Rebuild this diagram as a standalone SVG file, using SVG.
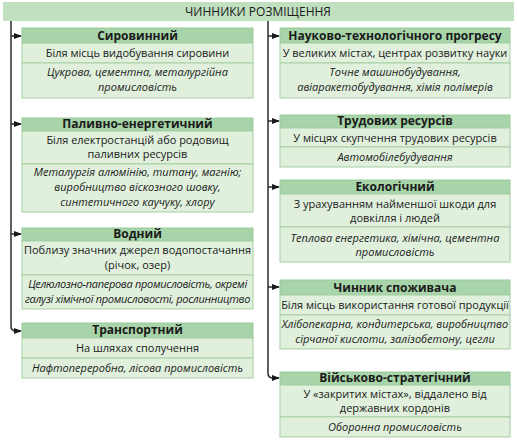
<svg xmlns="http://www.w3.org/2000/svg" width="517" height="441" viewBox="0 0 517 441">
<style>
text{font-family:"Open Sans","Noto Sans","Liberation Sans",sans-serif;fill:#1a1a1a;text-anchor:middle}
.t{font-size:12px;font-weight:bold}
.b{font-size:11px}
.i{font-size:11px;font-style:italic}
.ban{fill:#c0e0c0}
.hd{fill:#a7d4a8;stroke:#9cc99c;stroke-width:1}
.rw{fill:#e0f0dd;stroke:#a6cfa3;stroke-width:1}
.ln{fill:none;stroke:#2b2b2b;stroke-width:1.5}
</style>
<defs>
<marker id="ar" markerWidth="8" markerHeight="6" refX="7" refY="3" orient="auto" markerUnits="userSpaceOnUse">
<path d="M0,0 L8,3 L0,6 Z" fill="#1a1a1a"/>
</marker>
</defs>
<g id="banner">
<rect class="ban" x="3" y="2" width="511" height="19"/>
<text x="258" y="16" style="font-size:12px">ЧИННИКИ РОЗМІЩЕННЯ</text>
</g>
<g id="connectors">
<path class="ln" d="M11,21 V326 Q11,331 16,331 H21" marker-end="url(#ar)"/>
<path class="ln" d="M11,36 H21" marker-end="url(#ar)"/>
<path class="ln" d="M11,124 H21" marker-end="url(#ar)"/>
<path class="ln" d="M11,234 H21" marker-end="url(#ar)"/>
<path class="ln" d="M268,21 V373 Q268,378 273,378 H279" marker-end="url(#ar)"/>
<path class="ln" d="M268,36 H279" marker-end="url(#ar)"/>
<path class="ln" d="M268,121 H279" marker-end="url(#ar)"/>
<path class="ln" d="M268,187 H279" marker-end="url(#ar)"/>
<path class="ln" d="M268,287 H279" marker-end="url(#ar)"/>
</g>
<g id="syrovynnyi">
<rect class="hd" x="22" y="28" width="231" height="15"/>
<rect class="rw" x="22" y="43" width="231" height="20"/>
<rect class="rw" x="22" y="63" width="231" height="35"/>
<text class="t" x="137.5" y="40">Сировинний</text>
<text class="b" x="137.5" y="57">Біля місць видобування сировини</text>
<text class="i" x="137.5" y="76">Цукрова, цементна, металургійна</text>
<text class="i" x="137.5" y="91">промисловість</text>
</g>
<g id="palyvno">
<rect class="hd" x="22" y="118" width="231" height="13"/>
<rect class="rw" x="22" y="131" width="231" height="33"/>
<rect class="rw" x="22" y="164" width="231" height="48"/>
<text class="t" x="137.5" y="128">Паливно-енергетичний</text>
<text class="b" x="137.5" y="144">Біля електростанцій або родовищ</text>
<text class="b" x="137.5" y="158">паливних ресурсів</text>
<text class="i" x="137.5" y="176">Металургія алюмінію, титану, магнію;</text>
<text class="i" x="137.5" y="191">виробництво віскозного шовку,</text>
<text class="i" x="137.5" y="206">синтетичного каучуку, хлору</text>
</g>
<g id="vodnyi">
<rect class="hd" x="22" y="228" width="231" height="13"/>
<rect class="rw" x="22" y="241" width="231" height="34"/>
<rect class="rw" x="22" y="275" width="231" height="34"/>
<text class="t" x="137.5" y="238">Водний</text>
<text class="b" x="137.5" y="254">Поблизу значних джерел водопостачання</text>
<text class="b" x="137.5" y="269">(річок, озер)</text>
<text class="i" x="137.5" y="288" style="letter-spacing:-0.3px">Целюлозно-паперова промисловість, окремі</text>
<text class="i" x="137.5" y="303" style="letter-spacing:-0.3px">галузі хімічної промисловості, рослинництво</text>
</g>
<g id="transportnyi">
<rect class="hd" x="22" y="323" width="231" height="15"/>
<rect class="rw" x="22" y="338" width="231" height="20"/>
<rect class="rw" x="22" y="358" width="231" height="20"/>
<text class="t" x="137.5" y="334">Транспортний</text>
<text class="b" x="137.5" y="352">На шляхах сполучення</text>
<text class="i" x="137.5" y="372">Нафтопереробна, лісова промисловість</text>
</g>
<g id="naukovo">
<rect class="hd" x="280" y="28" width="230" height="15"/>
<rect class="rw" x="280" y="43" width="230" height="20"/>
<rect class="rw" x="280" y="63" width="230" height="35"/>
<text class="t" x="395" y="40">Науково-технологічного прогресу</text>
<text class="b" x="395" y="57">У великих містах, центрах розвитку науки</text>
<text class="i" x="395" y="76">Точне машинобудування,</text>
<text class="i" x="395" y="91">авіаракетобудування, хімія полімерів</text>
</g>
<g id="trudovykh">
<rect class="hd" x="280" y="115" width="230" height="13"/>
<rect class="rw" x="280" y="128" width="230" height="19"/>
<rect class="rw" x="280" y="147" width="230" height="20"/>
<text class="t" x="395" y="125">Трудових ресурсів</text>
<text class="b" x="395" y="142">У місцях скупчення трудових ресурсів</text>
<text class="i" x="395" y="161">Автомобілебудування</text>
</g>
<g id="ekolohichnyi">
<rect class="hd" x="280" y="180" width="230" height="14"/>
<rect class="rw" x="280" y="194" width="230" height="33"/>
<rect class="rw" x="280" y="227" width="230" height="35"/>
<text class="t" x="395" y="191">Екологічний</text>
<text class="b" x="395" y="208">З урахуванням найменшої шкоди для</text>
<text class="b" x="395" y="222">довкілля і людей</text>
<text class="i" x="395" y="242">Теплова енергетика, хімічна, цементна</text>
<text class="i" x="395" y="256">промисловість</text>
</g>
<g id="spozhyvacha">
<rect class="hd" x="280" y="280" width="230" height="15"/>
<rect class="rw" x="280" y="295" width="230" height="20"/>
<rect class="rw" x="280" y="315" width="230" height="34"/>
<text class="t" x="395" y="292">Чинник споживача</text>
<text class="b" x="395" y="309">Біля місць використання готової продукції</text>
<text class="i" x="395" y="328">Хлібопекарна, кондитерська, виробництво</text>
<text class="i" x="395" y="343">сірчаної кислоти, залізобетону, цегли</text>
</g>
<g id="viiskovo">
<rect class="hd" x="280" y="372" width="230" height="13"/>
<rect class="rw" x="280" y="385" width="230" height="32"/>
<rect class="rw" x="280" y="417" width="230" height="20"/>
<text class="t" x="395" y="382">Військово-стратегічний</text>
<text class="b" x="395" y="398">У «закритих містах», віддалено від</text>
<text class="b" x="395" y="412">державних  кордонів</text>
<text class="i" x="395" y="431">Оборонна промисловість</text>
</g>
</svg>
